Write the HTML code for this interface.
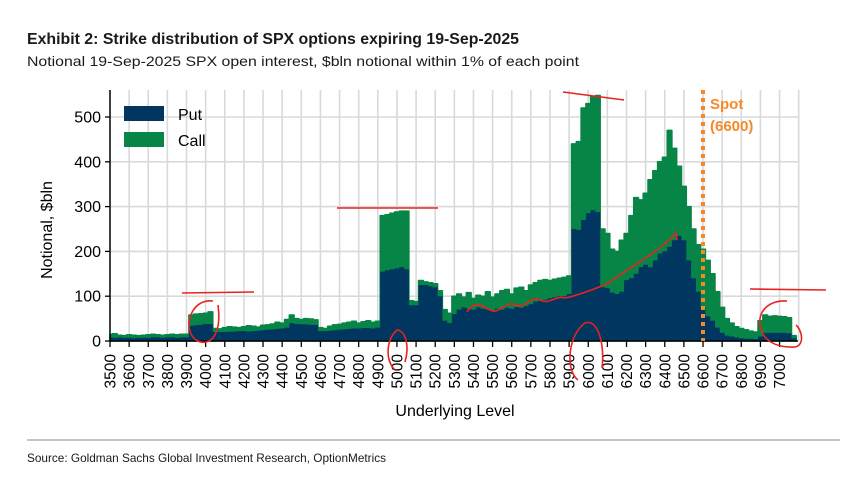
<!DOCTYPE html>
<html><head><meta charset="utf-8"><style>
html,body{margin:0;padding:0;background:#fff;}
svg{display:block;font-family:"Liberation Sans",Arial,sans-serif;}
</style></head><body>
<svg id="chart" width="856" height="488" viewBox="0 0 856 488" xmlns="http://www.w3.org/2000/svg">
<text x="27" y="44" font-size="16" font-weight="bold" fill="#1a1a1a" textLength="492" lengthAdjust="spacingAndGlyphs">Exhibit 2: Strike distribution of SPX options expiring 19-Sep-2025</text>
<text x="27" y="66" font-size="14" fill="#1a1a1a" textLength="552" lengthAdjust="spacingAndGlyphs">Notional 19-Sep-2025 SPX open interest, $bln notional within 1% of each point</text>
<g id="grid"></g>
<g id="areas"></g>
<g id="axes"></g>
<g>
<rect x="124" y="106" width="40" height="15" fill="#003660"/>
<text x="178" y="120" font-size="16" fill="#000">Put</text>
<rect x="124" y="132" width="40" height="15" fill="#078547"/>
<text x="178" y="146" font-size="16" fill="#000">Call</text>
</g>
<text transform="translate(52,230) rotate(-90)" text-anchor="middle" font-size="16" fill="#000">Notional, $bln</text>
<text x="455" y="416" text-anchor="middle" font-size="16" fill="#000">Underlying Level</text>
<line x1="27" y1="440" x2="840" y2="440" stroke="#888" stroke-width="1"/>
<text x="27" y="462" font-size="12" fill="#1a1a1a" textLength="359" lengthAdjust="spacingAndGlyphs">Source: Goldman Sachs Global Investment Research, OptionMetrics</text>
<g id="annot" fill="none" stroke="#e8231f" stroke-width="1.6">
<path d="M182,293 L254,292"/>
<path d="M213,301 C190,298 182,330 196,340 C210,348 222,335 218,305"/>
<path d="M337,208 L438,208"/>
<path d="M563,92 L624,100"/>
<path d="M467,312 C475,300 480,305 490,310 C500,315 505,300 515,305 C525,310 530,295 540,300 C550,305 555,295 565,298 C580,295 590,290 605,285 C620,275 635,265 650,255 C660,248 670,240 676,233 L677,240"/>
<path d="M750,289 L826,290"/>
<path d="M787,301 C770,300 758,310 760,325 C762,340 775,348 795,347 C805,345 802,330 796,325"/>
<path d="M578,380 C565,370 568,335 585,323 C598,318 605,345 602,368"/>
<path d="M395,370 C385,360 386,340 397,330 C405,330 410,345 405,362"/>
</g>
<line x1="703" y1="90" x2="703" y2="341" stroke="#f5892a" stroke-width="4" stroke-dasharray="4 4"/>
<text x="710" y="109" font-size="15" font-weight="bold" fill="#f5892a">Spot</text>
<text x="710" y="131" font-size="15" font-weight="bold" fill="#f5892a">(6600)</text>
</svg>
<script>
const strikeStart = 3500;
const strikeStep = 25;
const putValues = [
8,7,8,7, 7,6,7,7, 7,8,8,7, 8,8,7,8,
8,34,35,36, 38,38,20,20, 20,21,21,22, 22,21,22,23,
24,25,26,27, 28,30,40,38, 37,37,36,36, 22,22,23,24,
25,26,27,28, 28,29,29,28, 30,155,158,160, 162,165,160,80,
80,125,125,122, 120,100,45,40, 60,70,75,72, 70,75,72,70,
68,72,70,74, 72,76,74,78, 82,88,90,92, 95,98,100,100,
105,250,248,270, 285,292,288,120, 118,108,105,110, 136,140,150,165,
170,165,180,195, 200,210,225,235, 225,180,140,110, 75,55,45,30,
18,12,10,8, 6,5,5,4, 10,18,18,18, 18,18,17,6];
const totalValues = [
15,16,13,12, 14,13,12,13, 14,15,14,13, 14,15,14,15,
15,58,60,61, 62,65,28,27, 30,32,31,30, 32,34,33,31,
35,36,38,42, 40,48,58,50, 48,50,49,47, 30,28,33,36,
37,40,42,44, 40,43,45,42, 44,280,282,285, 288,290,290,90,
88,135,132,130, 128,112,70,62, 100,105,98,108, 95,102,100,110,
98,105,112,115, 105,118,120,112, 125,130,135,137, 135,138,140,142,
145,440,445,520, 530,545,548,250, 240,205,200,225, 240,280,320,315,
330,360,380,400, 410,470,430,390, 345,300,250,215, 205,180,150,110,
75,50,40,32, 28,25,22,20, 45,58,55,56, 55,54,52,12];
const yTicks = [0,100,200,300,400,500];
const xTicks = [3500,3600,3700,3800,3900,4000,4100,4200,4300,4400,4500,4600,4700,4800,4900,5000,5100,5200,5300,5400,5500,5600,5700,5800,5900,6000,6100,6200,6300,6400,6500,6600,6700,6800,6900,7000];

const NS = "http://www.w3.org/2000/svg";
const X0 = 110, PXPER100 = 19.13, Y0 = 341, PXPERUNIT = 0.448, XR = 798, YT = 90;
function xs(v){ return X0 + (v - 3500) / 100 * PXPER100; }
function ys(v){ return Y0 - v * PXPERUNIT; }
function mk(tag, attrs, parent){ const e = document.createElementNS(NS, tag); for (const k in attrs) e.setAttribute(k, attrs[k]); parent.appendChild(e); return e; }

const grid = document.getElementById('grid');
yTicks.forEach(t => {
  if (t === 0) return;
  const l = mk('line', {x1: X0, x2: XR, y1: ys(t), y2: ys(t), stroke: '#d9d9d9', 'stroke-width': 1.6}, grid);
  
  
});
xTicks.concat([7100]).forEach(t => {
  if (t === 3500) return;
  const l = mk('line', {x1: xs(t), x2: xs(t), y1: YT, y2: Y0, stroke: '#d9d9d9', 'stroke-width': 1.6}, grid);
  
  
});

const areas = document.getElementById('areas');
function areaPath(vals){
  const half = strikeStep / 2;
  let d = 'M' + xs(strikeStart).toFixed(1) + ',' + Y0;
  vals.forEach((v, i) => {
    const s = strikeStart + i * strikeStep;
    const a = Math.max(strikeStart, s - half), b = s + half;
    d += ' L' + xs(a).toFixed(1) + ',' + ys(v).toFixed(1) + ' L' + xs(b).toFixed(1) + ',' + ys(v).toFixed(1);
  });
  d += ' L' + xs(strikeStart + (vals.length - 1) * strikeStep + half).toFixed(1) + ',' + Y0 + ' Z';
  return d;
}
const callArea = mk('path', {d: areaPath(totalValues), fill: '#078547', stroke: '#078547', 'stroke-width': 1.5, 'stroke-linejoin': 'round'}, areas);


const putArea = mk('path', {d: areaPath(putValues), fill: '#003660'}, areas);



const axes = document.getElementById('axes');
const ya = mk('line', {x1: X0, x2: X0, y1: YT, y2: Y0, stroke: '#000', 'stroke-width': 1.5}, axes);


const xa = mk('line', {x1: X0, x2: XR, y1: Y0, y2: Y0, stroke: '#000', 'stroke-width': 1.5}, axes);


yTicks.forEach(t => {
  const tk = mk('line', {x1: X0 - 5, x2: X0, y1: ys(t), y2: ys(t), stroke: '#000', 'stroke-width': 1.3}, axes);
  
  
  const tx = mk('text', {x: X0 - 9, y: ys(t) + 5.5, 'text-anchor': 'end', 'font-size': 16, fill: '#000'}, axes);
  tx.textContent = t;
  
  
});
xTicks.forEach(t => {
  const tk = mk('line', {x1: xs(t), x2: xs(t), y1: Y0, y2: Y0 + 6, stroke: '#000', 'stroke-width': 1.3}, axes);
  
  
  const tx = mk('text', {transform: 'translate(' + (xs(t) + 5.5).toFixed(1) + ',' + (Y0 + 13) + ') rotate(-90)', 'text-anchor': 'end', 'font-size': 15.5, fill: '#000'}, axes);
  tx.textContent = t;
  
  
});
</script>
</body></html>
